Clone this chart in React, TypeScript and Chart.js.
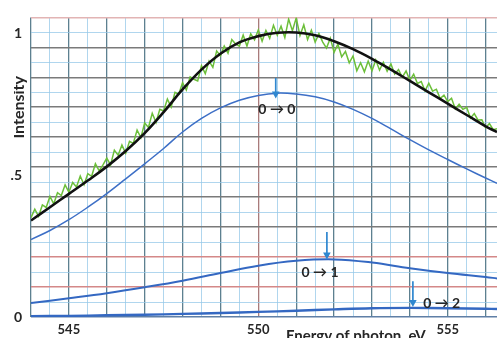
import React, { useEffect, useRef } from "react";
import { Chart, registerables } from "chart.js";

Chart.register(...registerables);

// ---- axis / tick data ----
const xMin = 544;
const xMax = 556.3;
const xGridValues = [544, 544.5, 545, 545.5, 546, 546.5, 547, 547.5, 548, 548.5, 549, 549.5, 550, 550.5, 551, 551.5, 552, 552.5, 553, 553.5, 554, 554.5, 555, 555.5, 556];
const xTickLabels = [545, 550, 555];
const yMax = 1.056;
const yTickValues = [0, 0.5, 1];
const yTickText = ["0", ".5", "1"];
const gridRows = [0, 0.5, 1, 1.5, 2, 2.5, 3, 3.5, 4, 4.5, 5, 5.5, 6, 6.5, 7, 7.5, 8, 8.5, 9, 9.5, 10];

// ---- experimental (noisy) spectrum, 0.1 eV steps from 544.0 ----
const expStart = 544.0;
const expStep = 0.1;
const expValues = [
  0.350, 0.380, 0.355, 0.395, 0.386, 0.425, 0.399, 0.438, 0.428, 0.466,
  0.440, 0.474, 0.458, 0.497, 0.466, 0.505, 0.496, 0.540, 0.515, 0.536,
  0.560, 0.536, 0.588, 0.570, 0.606, 0.577, 0.619, 0.612, 0.659, 0.632,
  0.684, 0.668, 0.718, 0.686, 0.732, 0.726, 0.768, 0.740, 0.792, 0.785,
  0.826, 0.800, 0.846, 0.838, 0.832, 0.886, 0.858, 0.902, 0.880, 0.938,
  0.920, 0.955, 0.930, 0.978, 0.962, 0.955, 0.994, 0.955, 0.998, 0.977,
  1.012, 0.972, 1.010, 0.982, 1.028, 0.993, 1.025, 0.985, 1.050, 1.009,
  1.054, 0.992, 1.030, 0.978, 1.011, 0.969, 0.999, 0.969, 0.948, 0.983,
  0.933, 0.962, 0.917, 0.936, 0.896, 0.920, 0.868, 0.896, 0.864, 0.902,
  0.868, 0.906, 0.870, 0.898, 0.866, 0.892, 0.856, 0.872, 0.845, 0.867,
  0.834, 0.856, 0.823, 0.830, 0.797, 0.824, 0.796, 0.803, 0.770, 0.782,
  0.759, 0.771, 0.733, 0.750, 0.732, 0.739, 0.701, 0.717, 0.694, 0.695,
  0.667, 0.682, 0.660, 0.664,
];

// ---- fitted envelope and 0->0 component (0.5 eV steps) ----
const fitEnergies = [544, 544.5, 545, 545.5, 546, 546.5, 547, 547.5, 548, 548.5, 549, 549.5, 550, 550.5, 551, 551.5, 552, 552.5, 553, 553.5, 554, 554.5, 555, 555.5, 556, 556.3];
const fitValues = [0.34, 0.387, 0.434, 0.481, 0.53, 0.585, 0.648, 0.722, 0.802, 0.872, 0.928, 0.968, 0.99, 1.002, 1.003, 0.993, 0.972, 0.944, 0.91, 0.872, 0.832, 0.792, 0.752, 0.712, 0.672, 0.652];
const band00 = [0.273, 0.305, 0.343, 0.387, 0.435, 0.487, 0.54, 0.594, 0.652, 0.7, 0.737, 0.764, 0.781, 0.789, 0.786, 0.776, 0.758, 0.732, 0.7, 0.663, 0.625, 0.589, 0.555, 0.522, 0.49, 0.471];

// ---- 0->1 and 0->2 components (1 eV steps) ----
const compEnergies = [544, 545, 546, 547, 548, 549, 550, 551, 552, 553, 554, 555, 556, 556.3];
const band01 = [0.049, 0.066, 0.084, 0.105, 0.128, 0.155, 0.181, 0.198, 0.203, 0.192, 0.172, 0.155, 0.141, 0.136];
const band02 = [0.003, 0.004, 0.006, 0.008, 0.011, 0.014, 0.018, 0.022, 0.027, 0.031, 0.032, 0.031, 0.029, 0.028];

// ---- transition arrows and labels ----
const arrowLabels = ["0 \u2192 0", "0 \u2192 1", "0 \u2192 2"];
const arrowX = [550.46, 551.81, 554.08];
const arrowTop = [0.843, 0.30, 0.126];
const arrowTip = [0.77, 0.203, 0.035];
const labelX = [550.49, 551.63, 554.84];
const labelY = [0.731, 0.157, 0.049];

const xTitle = "Energy of photon, eV";
const yTitle = "Intensity";

const pts = (xs: number[], ys: number[]) => ys.map((v, i) => ({ x: xs[i], y: v }));

const FONT = "Lato, 'DejaVu Sans', sans-serif";

const overlay = {
  id: "overlay",
  afterDatasetsDraw(chart: any) {
    const { ctx, chartArea } = chart;
    const xs = chart.scales.x;
    const ys = chart.scales.y;
    ctx.save();
    // arrows
    ctx.strokeStyle = "#2f87d0";
    ctx.fillStyle = "#2f87d0";
    ctx.lineWidth = 1.7;
    for (let i = 0; i < arrowX.length; i++) {
      const px = xs.getPixelForValue(arrowX[i]);
      const p1 = ys.getPixelForValue(arrowTop[i]);
      const p2 = ys.getPixelForValue(arrowTip[i]);
      ctx.beginPath();
      ctx.moveTo(px, p1);
      ctx.lineTo(px, p2 - 4);
      ctx.stroke();
      ctx.beginPath();
      ctx.moveTo(px - 3.8, p2 - 7);
      ctx.lineTo(px + 3.8, p2 - 7);
      ctx.lineTo(px, p2);
      ctx.closePath();
      ctx.fill();
    }
    // labels
    ctx.fillStyle = "#262626";
    ctx.font = "bold 14px " + FONT;
    ctx.textAlign = "center";
    ctx.textBaseline = "middle";
    for (let i = 0; i < arrowLabels.length; i++) {
      ctx.fillText(arrowLabels[i], xs.getPixelForValue(labelX[i]), ys.getPixelForValue(labelY[i]));
    }
    ctx.restore();

    // axis titles (the reference is cropped through them)
    ctx.save();
    ctx.fillStyle = "#262626";
    ctx.font = "bold 15px " + FONT;
    ctx.textAlign = "center";
    ctx.textBaseline = "top";
    ctx.fillText(xTitle, chartArea.left + 0.697 * chartArea.width, chartArea.bottom + 12);
    ctx.restore();

    ctx.save();
    ctx.beginPath();
    ctx.rect(14, 0, 40, chart.height);
    ctx.clip();
    ctx.translate(chartArea.left - 7, chartArea.top + 0.3 * chartArea.height);
    ctx.rotate(-Math.PI / 2);
    ctx.fillStyle = "#262626";
    ctx.font = "bold 16px " + FONT;
    ctx.textAlign = "center";
    ctx.textBaseline = "alphabetic";
    ctx.fillText(yTitle, 0, 0);
    ctx.restore();
  },
};

export default function App() {
  const ref = useRef<HTMLCanvasElement | null>(null);

  useEffect(() => {
    document.body.style.margin = "0";
    const canvas = ref.current;
    if (!canvas) return;
    const expPoints = expValues.map((v, i) => ({ x: expStart + i * expStep, y: v }));
    const chart = new Chart(canvas, {
      type: "line",
      data: {
        datasets: [
          {
            label: "fit",
            data: pts(fitEnergies, fitValues),
            borderColor: "#111111",
            borderWidth: 2.6,
            pointRadius: 0,
            tension: 0.4,
            order: 0,
          },
          {
            label: "experiment",
            data: expPoints,
            borderColor: "#6cbf3a",
            borderWidth: 1.5,
            pointRadius: 0,
            tension: 0,
            order: 1,
          },
          {
            label: "0-0",
            data: pts(fitEnergies, band00),
            borderColor: "#3d6fc6",
            borderWidth: 1.5,
            pointRadius: 0,
            tension: 0.4,
            order: 2,
          },
          {
            label: "0-1",
            data: pts(compEnergies, band01),
            borderColor: "#3468c2",
            borderWidth: 2,
            pointRadius: 0,
            tension: 0.4,
            order: 2,
          },
          {
            label: "0-2",
            data: pts(compEnergies, band02),
            borderColor: "#3468c2",
            borderWidth: 2.4,
            pointRadius: 0,
            tension: 0.4,
            order: 2,
          },
        ],
      },
      options: {
        responsive: false,
        animation: false,
        devicePixelRatio: 1,
        layout: { padding: { top: 15, right: 0, bottom: 0, left: 0 } },
        plugins: { legend: { display: false }, tooltip: { enabled: false }, title: { display: false } },
        scales: {
          x: {
            type: "linear",
            min: xMin,
            max: xMax,
            afterBuildTicks: (s: any) => {
              s.ticks = xGridValues.map((v) => ({ value: v }));
            },
            afterFit: (s: any) => {
              s.height = 21;
            },
            border: { display: false },
            grid: {
              drawTicks: false,
              lineWidth: (c: any) => (Number.isInteger(c.tick.value) ? 1.3 : 1),
              color: (c: any) => {
                const v = c.tick.value;
                if (v === 550) return "#a97b7b";
                if (Number.isInteger(v)) return "#5d8090";
                return "rgba(150,200,232,0.75)";
              },
            },
            ticks: {
              autoSkip: false,
              maxRotation: 0,
              padding: 5,
              color: "#262626",
              font: { family: FONT, size: 13, weight: "bold" },
              callback: (v: any) => (xTickLabels.includes(Number(v)) ? String(v) : ""),
            },
          },
          y: {
            type: "linear",
            position: "left",
            min: 0,
            max: yMax,
            afterBuildTicks: (s: any) => {
              s.ticks = yTickValues.map((v) => ({ value: v }));
            },
            afterFit: (s: any) => {
              s.width = 31;
            },
            border: { display: false },
            grid: { display: false, drawTicks: false },
            ticks: {
              padding: 9,
              color: "#262626",
              font: { family: FONT, size: 14, weight: "bold" },
              callback: (v: any) => {
                const i = yTickValues.indexOf(Number(v));
                return i >= 0 ? yTickText[i] : "";
              },
            },
          },
          yg: {
            type: "linear",
            position: "right",
            min: 0,
            max: 10,
            afterBuildTicks: (s: any) => {
              s.ticks = gridRows.map((v) => ({ value: v }));
            },
            afterFit: (s: any) => {
              s.width = 0;
            },
            border: { display: false },
            grid: {
              drawTicks: false,
              lineWidth: (c: any) => (Number.isInteger(c.tick.value) ? 1.6 : 1),
              color: (c: any) => {
                const v = c.tick.value;
                if (!Number.isInteger(v)) return "rgba(150,200,232,0.75)";
                if (v === 0) return "#5f7fa6";
                if (v === 1 || v === 2) return "#d48888";
                if (v === 10) return "#e2b4b4";
                return "#7a7a7a";
              },
            },
            ticks: { display: false },
          },
        },
      },
      plugins: [overlay],
    });
    return () => chart.destroy();
  }, []);

  return (
    <div style={{ width: 497, height: 338, position: "relative", background: "#ffffff" }}>
      <canvas ref={ref} width={497} height={338} style={{ display: "block" }} />
    </div>
  );
}
